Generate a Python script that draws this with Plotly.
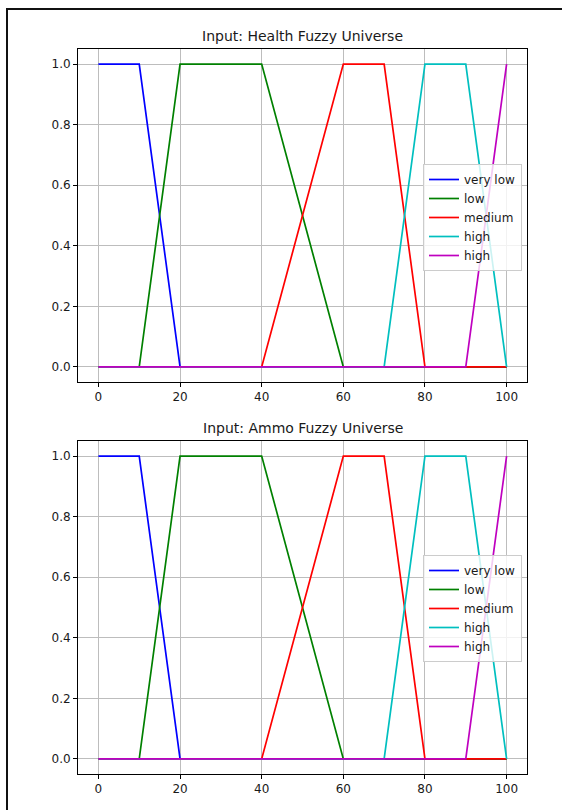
import plotly.graph_objects as go

# Membership function breakpoints (universe 0..100)
very_low_x = [0, 10, 20, 100]
very_low_y = [1, 1, 0, 0]
low_x = [0, 10, 20, 40, 60, 100]
low_y = [0, 0, 1, 1, 0, 0]
medium_x = [0, 40, 60, 70, 80, 100]
medium_y = [0, 0, 1, 1, 0, 0]
high_x = [0, 70, 80, 90, 100]
high_y = [0, 0, 1, 1, 0]
top_x = [0, 90, 100]
top_y = [0, 0, 1]

labels = ["very low", "low", "medium", "high", "high"]
colors = ["#0000ff", "#008000", "#ff0000", "#00bfbf", "#bf00bf"]
series = [(very_low_x, very_low_y), (low_x, low_y), (medium_x, medium_y),
          (high_x, high_y), (top_x, top_y)]

titles = ["Input: Health Fuzzy Universe", "Input: Ammo Fuzzy Universe"]
x_ticks = [0, 20, 40, 60, 80, 100]
y_ticks = [0.0, 0.2, 0.4, 0.6, 0.8, 1.0]

W, H = 562, 810
FONT = "DejaVu Sans"
TXT = "#1a1a1a"

# pixel boxes of the two axes: (left, right, top, bottom)
boxes = [(78, 527, 49, 382), (78, 527, 441, 774)]
legend_tops = [164, 555]

fig = go.Figure()
for i in range(2):
    sfx = "" if i == 0 else str(i + 1)
    for (xs, ys), name, col in zip(series, labels, colors):
        fig.add_trace(go.Scatter(
            x=xs, y=ys, mode="lines", name=name,
            line=dict(color=col, width=1.7),
            xaxis="x" + sfx, yaxis="y" + sfx,
            legend="legend" + sfx,
        ))

layout = dict(
    width=W, height=H,
    margin=dict(l=0, r=0, t=0, b=0),
    paper_bgcolor="white", plot_bgcolor="white",
    font=dict(family=FONT, size=12, color=TXT),
    showlegend=True,
    annotations=[], shapes=[],
)

for i, (l, r, t, b) in enumerate(boxes):
    sfx = "" if i == 0 else str(i + 1)
    common = dict(
        showline=True, mirror=True, linecolor="#000000", linewidth=1,
        ticks="outside", ticklen=4, tickwidth=1, tickcolor="#000000",
        showgrid=True, gridcolor="#bdbdbd", gridwidth=0.8,
        zeroline=False, tickfont=dict(family=FONT, size=12, color=TXT),
    )
    layout["xaxis" + sfx] = dict(
        common, domain=[l / W, r / W], range=[-5, 105],
        tickvals=x_ticks, ticktext=[str(v) for v in x_ticks],
        anchor="y" + sfx,
    )
    layout["yaxis" + sfx] = dict(
        common, domain=[(H - b) / H, (H - t) / H], range=[-0.05, 1.05],
        tickvals=y_ticks, ticktext=[f"{v:.1f}" for v in y_ticks],
        anchor="x" + sfx,
    )
    layout["legend" + sfx] = dict(
        x=423 / W, y=(H - legend_tops[i]) / H, xanchor="left", yanchor="top",
        bgcolor="rgba(255,255,255,0.8)", bordercolor="#cccccc", borderwidth=1,
        font=dict(family=FONT, size=12, color=TXT),
        tracegroupgap=0, itemwidth=30,
    )
    layout["annotations"].append(dict(
        text=titles[i], x=(l + r) / 2 / W, y=(H - t) / H,
        xref="paper", yref="paper", xanchor="center", yanchor="bottom",
        yshift=3, showarrow=False,
        font=dict(family=FONT, size=14, color=TXT),
    ))

# outer frame lines along the top and left edges
layout["shapes"] += [
    dict(type="line", xref="paper", yref="paper",
         x0=6 / W, x1=1.0, y0=(H - 9) / H, y1=(H - 9) / H,
         line=dict(color="#111111", width=2)),
    dict(type="line", xref="paper", yref="paper",
         x0=7 / W, x1=7 / W, y0=0, y1=(H - 9) / H,
         line=dict(color="#111111", width=2)),
]

fig.update_layout(**layout)
fig.write_html("out.html")
